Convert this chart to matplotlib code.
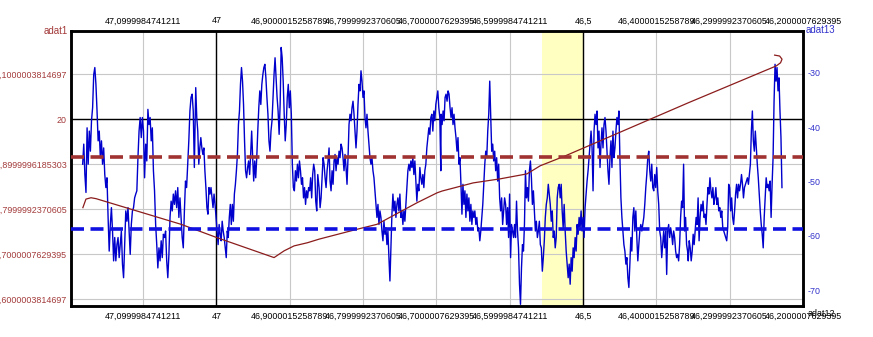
import matplotlib
matplotlib.use("Agg")
import matplotlib.pyplot as plt
import numpy as np

plt.rcParams['font.family'] = ['Liberation Sans', 'DejaVu Sans']

# x axis (adat12) ticks, shown top and bottom
x_ticks = [47.1, 47.0, 46.9, 46.8, 46.7, 46.6, 46.5, 46.4, 46.3, 46.2]
x_labels = ["47,0999984741211", "47", "46,9000015258789", "46,7999992370605",
            "46,7000007629395", "46,5999984741211", "46,5", "46,4000015258789",
            "46,2999992370605", "46,2000007629395"]

# left axis (adat1)
left_ticks = [20.1, 20.0, 19.9, 19.8, 19.7, 19.6]
left_labels = ["20,1000003814697", "20", "19,8999996185303", "19,7999992370605",
               "19,7000007629395", "19,6000003814697"]

# right axis (adat13)
right_ticks = [-30, -40, -50, -60, -70]
right_labels = ["-30", "-40", "-50", "-60", "-70"]

# adat13 trace, in pieces, each with its x range
seg_x = [(47.1823, 47.0300), (47.0281, 46.8617), (46.8599, 46.6939),
         (46.6935, 46.5257), (46.5243, 46.3574), (46.3565, 46.2287)]
seg1 = [-46.8, -43.1, -48.7, -52.0, -40.1, -46.8, -40.7, -44.4, -38.8, -36.4, -30.3, -29.0,
        -32.1, -37.0, -42.5, -40.7, -45.6, -42.5, -46.8, -43.8, -48.7, -51.1, -49.3, -56.6,
        -62.8, -57.9, -54.8, -59.1, -64.6, -60.3, -64.6, -61.6, -60.3, -64.0, -61.6, -59.1,
        -65.2, -67.7, -61.6, -55.4, -57.3, -54.8, -59.1, -63.4, -57.9, -55.4, -54.8, -53.0,
        -52.3, -51.7, -45.6, -40.7, -38.2, -41.9, -38.2, -40.7, -49.3, -43.1, -46.2, -36.7,
        -39.5, -38.2, -42.5, -40.1, -48.0, -51.7, -57.9, -61.6, -65.9, -62.2, -64.6, -60.9,
        -64.0, -59.7, -60.3, -59.1, -64.6, -67.7, -63.4, -56.6, -53.6, -55.4, -52.3, -54.2,
        -51.7, -54.8, -51.1, -56.6, -53.0, -56.6, -60.3, -62.2, -55.4, -49.9, -51.1, -46.8,
        -42.5, -37.0, -34.5, -33.9, -37.0, -47.4]
seg2 = [-32.7, -38.2, -40.7, -46.8, -43.8, -41.9, -43.8, -45.0, -43.8, -48.0, -51.1, -54.8,
        -56.0, -51.1, -52.3, -51.1, -53.0, -54.8, -52.3, -54.2, -56.6, -59.1, -61.6, -57.9,
        -59.7, -60.9, -57.3, -59.1, -60.3, -62.2, -64.0, -59.1, -60.3, -56.6, -54.2, -57.9,
        -54.2, -57.3, -52.3, -50.5, -48.0, -45.0, -39.5, -37.0, -32.1, -29.0, -31.5, -35.8,
        -42.5, -48.0, -49.3, -47.4, -46.2, -48.7, -45.0, -40.7, -45.6, -49.9, -46.2, -49.3,
        -45.6, -40.7, -36.4, -33.3, -35.8, -32.1, -30.3, -29.0, -28.4, -30.9, -34.5, -37.6,
        -42.5, -44.4, -40.7, -38.8, -34.5, -30.3, -27.2, -30.9, -34.5, -37.0, -41.3, -35.8,
        -25.3, -27.2, -31.5, -37.6, -42.5, -39.5, -34.5, -32.1, -36.4, -33.3, -37.6, -46.8,
        -51.1, -51.7, -48.0, -49.9, -46.8, -49.3, -46.2, -48.0, -50.5, -49.3, -53.0, -51.1,
        -54.2, -51.7, -53.0, -51.1, -51.7, -49.3, -53.0, -48.7, -46.8, -48.0, -53.6, -55.4,
        -48.7]
seg3 = [-51.1, -54.8, -53.0, -49.3, -45.6, -46.8, -49.3, -51.1, -48.0, -46.2, -43.8, -49.9,
        -51.7, -48.0, -50.5, -46.2, -45.0, -48.0, -45.6, -46.8, -44.4, -45.6, -43.1, -43.8,
        -45.6, -48.0, -45.0, -47.4, -50.5, -45.6, -39.5, -37.6, -38.8, -36.4, -35.2, -37.6,
        -40.7, -43.8, -40.7, -35.8, -32.1, -33.3, -29.6, -31.5, -34.5, -33.3, -38.2, -40.1,
        -37.6, -40.7, -43.1, -45.6, -46.8, -45.6, -48.0, -49.3, -51.7, -54.2, -56.6, -54.2,
        -57.9, -55.4, -56.6, -59.1, -60.9, -57.3, -59.7, -58.5, -61.6, -59.1, -64.0, -68.3,
        -62.2, -56.0, -52.3, -55.4, -53.6, -56.6, -54.2, -53.0, -55.4, -52.3, -56.6, -55.4,
        -57.9, -55.4, -57.3, -54.2, -51.1, -48.0, -46.8, -48.0, -46.2, -47.4, -45.6, -48.7,
        -46.2, -49.9, -53.6, -50.5, -51.7, -47.4, -49.3, -50.5, -48.7, -51.1, -48.0, -46.8,
        -43.8, -41.9, -40.1, -41.3, -38.2, -37.6, -40.7, -37.0, -38.8, -35.8, -34.5, -33.3,
        -36.4, -38.2, -48.0]
seg4 = [-37.6, -39.5, -37.0, -38.8, -34.5, -33.9, -35.2, -33.3, -33.9, -36.4, -38.2, -36.4,
        -39.5, -37.6, -40.1, -41.9, -44.4, -41.9, -46.8, -45.6, -50.5, -56.0, -50.5, -54.2,
        -51.7, -56.6, -52.3, -55.4, -53.0, -57.3, -54.2, -57.9, -55.4, -56.6, -55.4, -57.9,
        -56.6, -59.1, -58.5, -60.9, -59.1, -56.6, -54.2, -50.5, -46.8, -44.4, -45.6, -40.7,
        -37.6, -31.5, -38.2, -44.4, -43.1, -46.2, -44.4, -48.0, -45.6, -49.9, -46.8, -53.0,
        -55.4, -53.0, -57.9, -55.4, -53.0, -54.2, -57.9, -54.8, -60.3, -52.3, -64.0, -57.9,
        -59.1, -60.3, -57.9, -60.3, -53.6, -59.1, -62.2, -68.9, -72.6, -65.9, -61.6, -62.8,
        -57.9, -48.0, -53.0, -51.1, -53.6, -48.0, -46.2, -49.3, -54.2, -51.7, -55.4, -59.1,
        -57.3, -60.3, -59.1, -57.3, -61.6, -62.2, -66.5, -64.0, -60.9, -56.6, -54.2, -53.0,
        -50.5, -52.3, -54.2, -57.3, -55.4, -60.3, -59.1, -62.2, -60.3, -53.0, -51.1, -50.5,
        -53.0, -50.5, -55.4, -58.5, -54.2]
seg5 = [-59.1, -62.8, -65.2, -67.7, -65.2, -68.9, -64.0, -66.5, -62.2, -64.0, -60.3, -62.8,
        -57.9, -59.7, -56.6, -58.5, -55.4, -59.1, -56.6, -60.3, -54.8, -52.3, -49.9, -48.0,
        -45.6, -43.1, -40.7, -43.8, -51.7, -40.7, -37.6, -39.5, -37.0, -43.8, -40.7, -47.4,
        -43.1, -40.1, -43.8, -39.5, -38.2, -40.7, -44.4, -48.0, -50.5, -45.6, -42.5, -47.4,
        -40.7, -45.6, -43.8, -40.7, -38.2, -39.5, -37.0, -45.6, -53.0, -56.6, -59.1, -61.6,
        -62.8, -65.2, -64.0, -67.7, -69.5, -65.2, -60.3, -62.8, -56.6, -54.8, -59.1, -55.4,
        -60.3, -64.6, -61.6, -59.1, -57.9, -59.1, -57.9, -56.6, -54.2, -51.1, -48.7, -45.6,
        -44.4, -48.0, -49.9, -46.8, -51.1, -51.7, -48.7, -51.1, -47.4, -51.7, -54.2, -59.1,
        -60.3, -64.0, -61.6, -59.1, -62.2, -59.1, -67.1, -59.1, -57.9, -60.3, -58.5, -59.7,
        -61.6, -59.1, -60.3, -62.8, -64.0, -63.4, -64.6, -61.6, -56.6, -53.6, -54.8, -46.8,
        -59.1, -56.6, -61.6, -62.8]
seg6 = [-64.6, -60.9, -62.2, -64.6, -62.8, -59.7, -61.6, -59.1, -56.6, -57.9, -53.0, -60.9,
        -56.6, -54.2, -55.4, -53.6, -56.6, -56.0, -57.9, -54.2, -51.1, -52.3, -49.3, -51.7,
        -53.0, -51.1, -54.2, -53.0, -51.1, -54.2, -53.0, -55.4, -54.8, -56.6, -55.4, -58.5,
        -59.1, -59.7, -60.3, -60.9, -58.5, -50.5, -51.1, -55.4, -53.0, -56.6, -57.9, -55.4,
        -52.3, -50.5, -53.0, -50.5, -51.7, -50.5, -48.7, -50.5, -53.0, -51.1, -50.5, -49.9,
        -49.3, -50.5, -48.7, -46.8, -40.7, -37.0, -42.5, -44.4, -40.7, -43.8, -46.8, -49.3,
        -52.3, -55.4, -57.9, -59.7, -62.2, -56.6, -53.0, -49.3, -51.1, -50.5, -51.7, -49.9,
        -56.6, -50.5, -45.6, -35.2, -28.4, -31.5, -29.0, -33.3, -30.9, -37.0, -41.9, -51.1]
segs = [seg1, seg2, seg3, seg4, seg5, seg6]

# adat1 curve
adat1_x = [47.182, 47.1778, 47.1709, 47.1641, 47.0482, 46.9986, 46.9213, 46.9076, 46.894,
           46.8758, 46.8599, 46.808, 46.7808, 46.7262, 46.6989, 46.692, 46.6498, 46.613,
           46.5765, 46.5584, 46.5243, 46.3565, 46.2364, 46.2306, 46.2286, 46.2319, 46.2387]
adat1_y = [19.803, 19.822, 19.825, 19.823, 19.766, 19.736, 19.692, 19.707, 19.718,
           19.725, 19.733, 19.755, 19.766, 19.814, 19.836, 19.840, 19.858, 19.867,
           19.878, 19.896, 19.918, 20.036, 20.118, 20.125, 20.133, 20.140, 20.142]

adat1_ref = 19.9156      # dashed brown level
adat13_ref = -58.7       # dashed blue level
band = (46.5553, 46.5)   # yellow marked range

brown = '#8e2a2a'
blue = '#0000cc'

fig = plt.figure(figsize=(8.73, 3.37), dpi=100)
ax = fig.add_axes([71 / 873, 1 - 306 / 337, 732 / 873, 275 / 337])
ax2 = ax.twinx()

ax.axvspan(band[0], band[1], color='#ffffc2', lw=0, zorder=0)
for xv in x_ticks:
    ax.axvline(xv, color='#c8c8c8', lw=0.8, zorder=1)
for yv in left_ticks:
    ax.axhline(yv, color='#c8c8c8', lw=0.8, zorder=1)
ax.axvline(47.0, color='black', lw=1.0, zorder=2)
ax.axvline(46.5, color='black', lw=1.0, zorder=2)
ax.axhline(20.0, color='black', lw=1.0, zorder=2)

bx = np.concatenate([np.linspace(a, b, len(s)) for (a, b), s in zip(seg_x, segs)])
by = np.concatenate(segs)
ax2.plot(bx, by, color=blue, lw=1.0, zorder=2)
ax2.plot(adat1_x, adat1_y, color='#8b1c1c', lw=0.9, zorder=3, transform=ax.transData)
l1, = ax2.plot([0, 1], [adat1_ref, adat1_ref], color='#a03232', lw=2.6, zorder=4,
               transform=ax.get_yaxis_transform())
l2, = ax2.plot([0, 1], [adat13_ref, adat13_ref], color='#1010e0', lw=2.6, zorder=4,
               transform=ax2.get_yaxis_transform())
for l in (l1, l2):
    l.set_dashes((3.6, 1.8))
    l.set_solid_capstyle('butt')
    l.set_dash_capstyle('butt')

ax.set_xlim(47.1982, 46.2)
ax.set_ylim(19.5844, 20.1956)
ax2.set_ylim(-72.91, -22.27)

ax.set_xticks(x_ticks)
ax.set_xticklabels(x_labels)
ax.set_yticks(left_ticks)
ax.set_yticklabels(left_labels)
ax2.set_yticks(right_ticks)
ax2.set_yticklabels(right_labels)

ax.tick_params(axis='x', length=0, pad=4, labelsize=6.4, colors='black',
               top=True, labeltop=True, bottom=True, labelbottom=True)
ax.tick_params(axis='y', length=0, pad=3, labelsize=6.4, labelcolor='#a33a3a')
ax2.tick_params(axis='y', length=0, pad=3, labelsize=6.4, labelcolor='#3333cc')

for a in (ax, ax2):
    for sp in a.spines.values():
        sp.set_linewidth(1.8)
        sp.set_color('black')

fig.text(68 / 873, 1 - 31 / 337, "adat1", color='#a33a3a', fontsize=7,
         ha='right', va='center')
fig.text(806 / 873, 1 - 30 / 337, "adat13", color='#3333cc', fontsize=7,
         ha='left', va='center')
fig.text(808 / 873, 1 - 313 / 337, "adat12", color='black', fontsize=6.4,
         ha='left', va='center')

fig.savefig("out.png", dpi=100)
